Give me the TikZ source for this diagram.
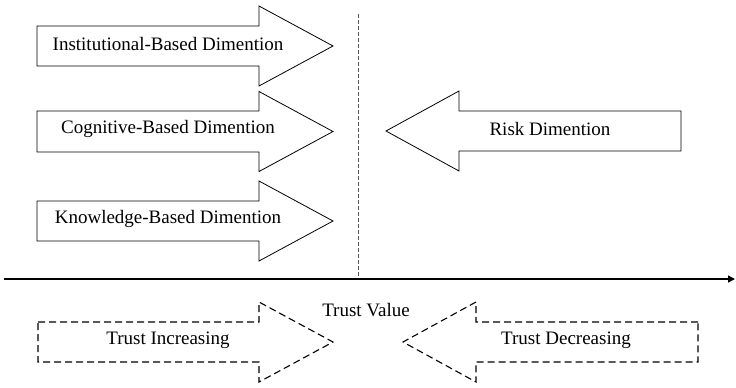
\documentclass[tikz,border=0pt]{standalone}
\usepackage{fontspec}
\setmainfont{Liberation Serif}
\usetikzlibrary{arrows.meta}

% block arrow pointing right: left end, head base, tip, centre y, body half-height, head half-height
\newcommand\fatarrowR[7]{%
  \draw[#1] (#2,#5-#6) -- (#3,#5-#6) -- (#3,#5-#7) -- (#4,#5)
    -- (#3,#5+#7) -- (#3,#5+#6) -- (#2,#5+#6) -- cycle;}
% block arrow pointing left: right end, head base, tip, centre y, body half-height, head half-height
\newcommand\fatarrowL[7]{%
  \draw[#1] (#2,#5-#6) -- (#3,#5-#6) -- (#3,#5-#7) -- (#4,#5)
    -- (#3,#5+#7) -- (#3,#5+#6) -- (#2,#5+#6) -- cycle;}

\tikzset{
  solidarrow/.style={draw=black, line width=0.8bp, line join=miter},
  dashedarrow/.style={draw=black, line width=1.1bp, dash pattern=on 7bp off 4bp},
  label/.style={font=\fontsize{19bp}{22bp}\selectfont, inner sep=0pt, anchor=center},
  axis/.style={line width=1.4bp, -{Triangle[length=7bp,width=7bp]}},
  divider/.style={line width=1bp, draw=black!65, dash pattern=on 4bp off 2bp}
}

\begin{document}
\begin{tikzpicture}[x=1bp,y=-1bp]
  \useasboundingbox (0,0) rectangle (736,387);

  % trust-building dimensions
  \fatarrowR{solidarrow}{37}{259}{333}{46}{20}{40}
  \fatarrowR{solidarrow}{37}{259}{333}{131.5}{20.5}{40}
  \fatarrowR{solidarrow}{37}{259}{333}{221}{20}{40}
  \node[label] (inst) at (168,44) {Institutional-Based Dimention};
  \node[label] (cogn) at (168,129) {Cognitive-Based Dimention};
  \node[label] (know) at (168,219) {Knowledge-Based Dimention};

  % risk dimension
  \fatarrowL{solidarrow}{681}{459}{386}{131}{20}{40}
  \node[label] (risk) at (550,129) {Risk Dimention};

  % trust value axis and balance line
  \coordinate (axL) at (4,279);
  \coordinate (axR) at (735,279);
  \coordinate (divT) at (358,14);
  \coordinate (divB) at (358,279);
  \draw[divider] (divT) -- (divB);
  \draw[axis] (axL) -- (axR);
  \node[label] (tv) at (366,310) {Trust Value};

  % direction of change
  \fatarrowR{dashedarrow}{38}{259}{333}{342}{20}{40}
  \fatarrowL{dashedarrow}{698}{476}{403}{342}{20}{40}
  \node[label] (inc) at (168,340) {Trust Increasing};
  \node[label] (dec) at (566,340) {Trust Decreasing};
\end{tikzpicture}
\end{document}
